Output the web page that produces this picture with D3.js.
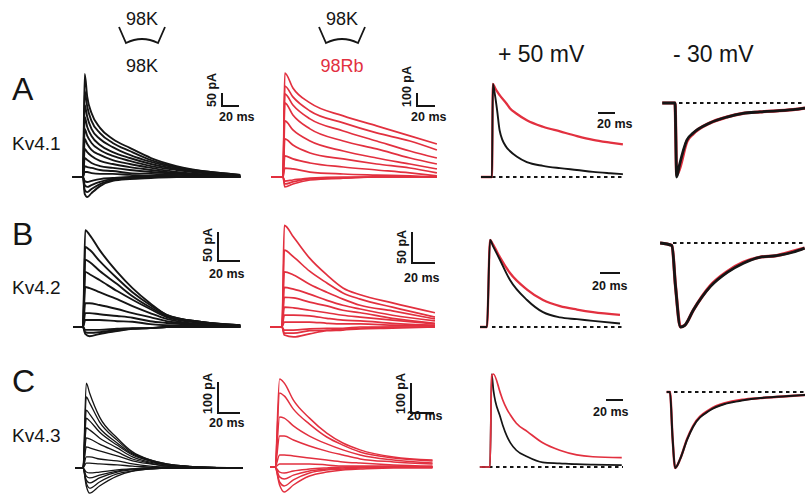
<!DOCTYPE html>
<html><head><meta charset="utf-8">
<script src="https://cdn.jsdelivr.net/npm/d3@7"></script>
<style>body{margin:0;background:#fff}svg{display:block}text{font-family:"Liberation Sans",Arial,Helvetica,sans-serif}</style>
</head><body>
<script>
// ---------------- DATA ----------------
// Row A, Kv4.1, 98K (black family) : time (ms), current (pA)
const tA_K = [-12, 0, 2, 5, 10, 20, 35, 55, 80, 110, 150, 185];
const A_K = [
  [0,0,396,308,246,189,146,112,73,42,19,8],
  [0,0,331,270,216,169,131,100,65,38,19,8],
  [0,0,277,231,185,146,115,85,58,35,15,4],
  [0,0,231,192,158,123,96,73,50,31,15,4],
  [0,0,185,158,131,104,81,62,42,27,12,4],
  [0,0,146,127,104,85,65,50,35,19,8,4],
  [0,0,108,96,81,62,50,38,27,15,8,0],
  [0,0,73,65,54,42,35,27,19,12,4,0],
  [0,0,42,38,35,27,23,15,12,8,4,0],
  [0,0,19,19,15,12,12,8,4,4,0,0],
  [0,0,-15,-19,-15,-8,-4,0,0,0,0,0],
  [0,0,-31,-38,-31,-19,-8,-4,0,0,0,0],
  [0,0,-50,-58,-46,-27,-12,-4,0,0,0,0],
  [0,0,-65,-77,-62,-35,-15,-8,-4,0,0,0]
];
// Row A, Kv4.1, 98Rb (red family)
const tA_Rb = [-13, 0, 2, 11, 30, 67, 104, 141, 171];
const A_Rb = [
  [0,0,800,685,570,470,393,316,254],
  [0,0,700,616,508,416,339,277,208],
  [0,0,639,554,447,354,277,200,146],
  [0,0,570,477,370,277,216,146,100],
  [0,0,431,362,277,200,146,100,62],
  [0,0,293,246,185,139,100,69,31],
  [0,0,162,139,108,77,54,31,8],
  [0,0,69,62,38,23,15,8,0],
  [0,0,-31,-23,-8,0,0,0,0],
  [0,0,-54,-38,-15,-8,0,0,0],
  [0,0,-77,-54,-23,-8,0,0,0]
];
// Row B, Kv4.2, 98K
const tB_K = [-9, 0, 2, 6, 15, 31, 45, 61, 76, 106, 143];
const B_K = [
  [0,0,167,159,133,95,67,41,21,9,3],
  [0,0,138,133,114,84,60,38,21,9,3],
  [0,0,116,112,97,74,53,34,19,9,3],
  [0,0,95,91,81,62,47,31,17,7,2],
  [0,0,69,67,60,48,36,24,14,5,2],
  [0,0,41,41,38,31,24,17,10,5,2],
  [0,0,24,24,22,19,16,10,7,3,0],
  [0,0,12,12,12,10,9,5,3,2,0],
  [0,0,-5,-5,-5,-3,-2,-2,0,0,0],
  [0,0,-9,-10,-9,-5,-3,-2,0,0,0],
  [0,0,-12,-16,-12,-7,-3,-2,0,0,0]
];
// Row B, Kv4.2, 98Rb
const tB_Rb = [-10, 0, 2, 10, 24, 39, 53, 68, 96, 133];
const B_Rb = [
  [0,0,164,145,111,84,63,52,39,23],
  [0,0,124,113,90,71,55,45,32,16],
  [0,0,89,84,69,56,45,35,26,13],
  [0,0,64,61,53,43,35,29,19,10],
  [0,0,48,47,40,34,27,23,14,6],
  [0,0,32,31,27,23,19,16,11,5],
  [0,0,19,19,18,14,11,10,6,3],
  [0,0,8,8,8,6,5,5,3,2],
  [0,0,-5,-5,-3,-2,-2,0,0,0],
  [0,0,-10,-10,-6,-5,-3,-2,0,0],
  [0,0,-13,-16,-11,-6,-5,-3,-2,0]
];
// Row C, Kv4.3, 98K
const tC_K = [-7, 0, 3, 6, 15, 31, 45, 61, 76, 106, 145];
const C_K = [
  [0,0,274,242,165,97,52,26,13,3,0],
  [0,0,229,210,149,90,48,26,13,3,0],
  [0,0,187,174,129,81,45,23,10,3,0],
  [0,0,161,152,116,74,42,23,10,3,0],
  [0,0,129,123,97,65,36,19,10,3,0],
  [0,0,97,94,77,52,29,16,6,3,0],
  [0,0,68,65,55,39,23,13,6,0,0],
  [0,0,36,36,29,23,13,6,3,0,0],
  [0,0,16,16,13,10,6,3,0,0,0],
  [0,0,-13,-16,-13,-6,-3,0,0,0,0],
  [0,0,-26,-32,-23,-10,-3,0,0,0,0],
  [0,0,-39,-48,-32,-13,-6,-3,0,0,0],
  [0,0,-48,-65,-45,-19,-10,-3,0,0,0],
  [0,0,-58,-81,-58,-26,-10,-3,0,0,0]
];
// Row C, Kv4.3, 98Rb
const tC_Rb = [-4, 0, 4, 8, 16, 30, 45, 59, 74, 103, 137];
const C_Rb = [
  [0,0,293,280,223,163,113,80,57,33,23],
  [0,0,247,237,193,143,100,73,50,30,20],
  [0,0,167,163,137,103,77,57,40,23,13],
  [0,0,103,103,90,70,53,40,27,17,10],
  [0,0,40,40,37,30,23,17,13,7,3],
  [0,0,10,10,10,10,7,3,3,3,0],
  [0,0,-17,-20,-13,-7,-3,0,0,0,0],
  [0,0,-33,-40,-27,-13,-7,-3,0,0,0],
  [0,0,-50,-63,-43,-20,-10,-7,-3,0,0],
  [0,0,-60,-83,-60,-30,-17,-10,-7,-3,-3]
];
// Normalized +50 mV comparison (fraction of peak)
const tA_50 = [-13, 0, 1, 3.5, 6, 9, 17, 21, 29, 41, 60, 80, 100, 119, 139, 154];
const A_50_Rb = [0,0,1.0,0.96,0.92,0.88,0.79,0.74,0.68,0.61,0.54,0.49,0.44,0.40,0.37,0.35];
const A_50_K  = [0,0,1.0,0.88,0.72,0.5,0.32,0.28,0.22,0.16,0.12,0.095,0.075,0.055,0.04,0.03];
const tB_50 = [-7, 0, 3, 6, 13, 23, 40, 56, 73, 90, 106, 133];
const B_50_Rb = [0,0,1,0.95,0.8,0.62,0.43,0.31,0.24,0.2,0.17,0.14];
const B_50_K  = [0,0,1,0.93,0.77,0.54,0.31,0.17,0.11,0.09,0.07,0.04];
const tC_50 = [-12, 0, 2, 4, 12, 15, 20, 24, 31, 44, 62, 82, 102, 121, 155];
const C_50_Rb = [0,0,0.98,1.0,0.80,0.72,0.62,0.56,0.47,0.38,0.26,0.18,0.13,0.11,0.10];
const C_50_K  = [0,0,1.0,0.83,0.54,0.45,0.33,0.26,0.18,0.11,0.05,0.04,0.03,0.025,0.02];
// Normalized -30 mV comparison
const tA_30 = [-15, 0, 2, 5, 14, 21, 41, 61, 80, 100, 139, 153];
const A_30_Rb = [0,0,-0.97,-0.9,-0.52,-0.42,-0.27,-0.19,-0.14,-0.12,-0.09,-0.07];
const A_30_K  = [0,0,-1.0,-0.85,-0.5,-0.41,-0.27,-0.19,-0.14,-0.12,-0.09,-0.07];
const tB_30 = [-14, 0, 4, 10, 15, 25, 45, 65, 84, 103, 123, 142, 156];
const B_30_Rb = [0,-0.03,-0.5,-1.0,-0.98,-0.8,-0.51,-0.34,-0.23,-0.17,-0.15,-0.1,-0.06];
const B_30_K  = [0,-0.03,-0.5,-1.0,-0.98,-0.8,-0.52,-0.35,-0.24,-0.17,-0.15,-0.11,-0.06];
const tC_30 = [-4, 0, 3, 6, 12, 20, 27, 47, 67, 86, 106, 145, 159];
const C_30_Rb = [0,0,-0.6,-1.0,-0.88,-0.62,-0.45,-0.23,-0.14,-0.1,-0.08,-0.05,-0.04];
const C_30_K  = [0,0,-0.6,-1.0,-0.88,-0.63,-0.46,-0.24,-0.15,-0.11,-0.08,-0.05,-0.04];

const rowLabels = ["A","B","C"];
const channels = ["Kv4.1","Kv4.2","Kv4.3"];
const headers = ["+ 50 mV","- 30 mV"];

// ---------------- DRAWING ----------------
const RED = "#e2303f", BLK = "#151515";
const svg = d3.select("body").append("svg").attr("width",805).attr("height",497);

function panel(cfg){
  const x = d3.scaleLinear().domain([0,1]).range([cfg.x0, cfg.x0+cfg.pxMs]);
  const y = d3.scaleLinear().domain([0,1]).range([cfg.y0, cfg.y0-cfg.pxUnit]);
  return {x,y};
}
function drawTraces(g, sc, t, traces, color, w){
  const line = d3.line().x(d=>sc.x(d[0])).y(d=>sc.y(d[1])).curve(d3.curveMonotoneX);
  traces.forEach(tr=>{
    g.append("path").attr("d", line(t.map((v,i)=>[v,tr[i]])))
     .attr("fill","none").attr("stroke",color).attr("stroke-width",w)
     .attr("stroke-linejoin","round");
  });
}
function scaleBar(g, sc, xPx, yPx, ms, amp, ampLabel, msLabelDx, msLabelY){
  const hx = sc.x(ms)-sc.x(0), vy = sc.y(0)-sc.y(amp);
  const p = d3.path();
  if(amp){ p.moveTo(xPx, yPx-vy); p.lineTo(xPx,yPx); } else p.moveTo(xPx,yPx);
  p.lineTo(xPx+hx, yPx);
  g.append("path").attr("d",p.toString()).attr("fill","none").attr("stroke",BLK).attr("stroke-width",2);
  if(amp){
    g.append("text").attr("transform",`translate(${xPx-6},${yPx+1}) rotate(-90)`)
     .attr("font-size",12.5).attr("font-weight","bold").attr("fill",BLK).text(ampLabel);
  }
  g.append("text").attr("x",xPx+msLabelDx).attr("y",msLabelY)
   .attr("font-size",12.5).attr("font-weight","bold").attr("fill",BLK).text(ms+" ms");
}
function dashed(g, x1, x2, y){
  g.append("line").attr("x1",x1).attr("x2",x2).attr("y1",y).attr("y2",y)
   .attr("stroke",BLK).attr("stroke-width",2).attr("stroke-dasharray","3.5,3.5");
}
const g = svg.append("g");

// families
const fams = [
  {t:tA_K, tr:A_K, x0:83, y0:177, pxMs:0.85, pxU:0.26, c:BLK, w:1.9, bar:[222,106,50,"50 pA"], msL:[-3,121]},
  {t:tA_Rb,tr:A_Rb,x0:283,y0:177, pxMs:0.9,  pxU:0.13, c:RED, w:1.7, bar:[417,106,100,"100 pA"], msL:[-6,121]},
  {t:tB_K, tr:B_K, x0:83, y0:327, pxMs:1.1,  pxU:0.58, c:BLK, w:1.9, bar:[218,261,50,"50 pA"], msL:[-9,278]},
  {t:tB_Rb,tr:B_Rb,x0:282,y0:327, pxMs:1.15, pxU:0.62, c:RED, w:1.7, bar:[412,263,50,"50 pA"], msL:[-8,282]},
  {t:tC_K, tr:C_K, x0:83, y0:468, pxMs:1.1,  pxU:0.31, c:BLK, w:1.3, bar:[218,413,100,"100 pA"], msL:[-9,427]},
  {t:tC_Rb,tr:C_Rb,x0:275,y0:467, pxMs:1.15, pxU:0.30, c:RED, w:1.5, bar:[411,413,100,"100 pA"], msL:[-4,420]}
];
fams.forEach(f=>{
  const sc = panel({x0:f.x0,y0:f.y0,pxMs:f.pxMs,pxUnit:f.pxU});
  drawTraces(g, sc, f.t, f.tr, f.c, f.w);
  scaleBar(g, sc, f.bar[0], f.bar[1], 20, f.bar[2], f.bar[3], f.msL[0], f.msL[1]);
});

// normalized comparisons
const comps = [
  {t:tA_50, k:A_50_K, r:A_50_Rb, x0:492, y0:177, pxMs:0.85, amp:93, dash:[492,623], top:"K", w:1.9, bar:[598,113,-1,128]},
  {t:tB_50, k:B_50_K, r:B_50_Rb, x0:487, y0:327, pxMs:1.0,  amp:87, dash:[492,623], top:"K", w:1.9, bar:[600,273,-8,290]},
  {t:tC_50, k:C_50_K, r:C_50_Rb, x0:490, y0:467, pxMs:0.85, amp:93, dash:[482,623], top:"R", w:1.7, bar:[606,400,-13,416]},
  {t:tA_30, k:A_30_K, r:A_30_Rb, x0:675, y0:103, pxMs:0.85, amp:74, dash:[665,805], top:"K", w:2.8},
  {t:tB_30, k:B_30_K, r:B_30_Rb, x0:672, y0:243, pxMs:0.85, amp:84, dash:[673,805], top:"K", w:2.8},
  {t:tC_30, k:C_30_K, r:C_30_Rb, x0:670, y0:392, pxMs:0.85, amp:76, dash:[667,805], top:"K", w:2.0}
];
comps.forEach(c=>{
  const sc = panel({x0:c.x0,y0:c.y0,pxMs:c.pxMs,pxUnit:c.amp});
  dashed(g, c.dash[0], c.dash[1], c.y0);
  if(c.top==="K"){ drawTraces(g,sc,c.t,[c.r],RED,c.w+0.4); drawTraces(g,sc,c.t,[c.k],BLK,c.w); }
  else { drawTraces(g,sc,c.t,[c.k],BLK,c.w); drawTraces(g,sc,c.t,[c.r],RED,c.w); }
  if(c.bar) scaleBar(g, sc, c.bar[0], c.bar[1], 20, 0, "", c.bar[2], c.bar[3]);
});

// headers
g.append("text").attr("x",498).attr("y",62).attr("font-size",23).attr("fill",BLK).text(headers[0]);
g.append("text").attr("x",673).attr("y",62).attr("font-size",23).attr("fill",BLK).text(headers[1]);

// solution icons
function icon(cx, topLabel, botLabel, botColor){
  g.append("text").attr("x",cx).attr("y",25).attr("text-anchor","middle").attr("font-size",18).attr("fill",BLK).text(topLabel);
  const p = d3.path();
  p.moveTo(cx-23,27); p.lineTo(cx-16,43); p.quadraticCurveTo(cx,35,cx+16,43); p.lineTo(cx+23,27);
  g.append("path").attr("d",p.toString()).attr("fill","none").attr("stroke",BLK).attr("stroke-width",1.8);
  g.append("text").attr("x",cx).attr("y",72).attr("text-anchor","middle").attr("font-size",18).attr("fill",botColor).text(botLabel);
}
icon(142,"98K","98K",BLK);
icon(342,"98K","98Rb",RED);

// row labels
const rowY = [100,245,392], chY = [150,294,442];
rowLabels.forEach((l,i)=>{
  g.append("text").attr("x",12).attr("y",rowY[i]).attr("font-size",32).attr("fill",BLK).text(l);
  g.append("text").attr("x",12).attr("y",chY[i]).attr("font-size",19).attr("fill",BLK).text(channels[i]);
});
</script>
</body></html>
